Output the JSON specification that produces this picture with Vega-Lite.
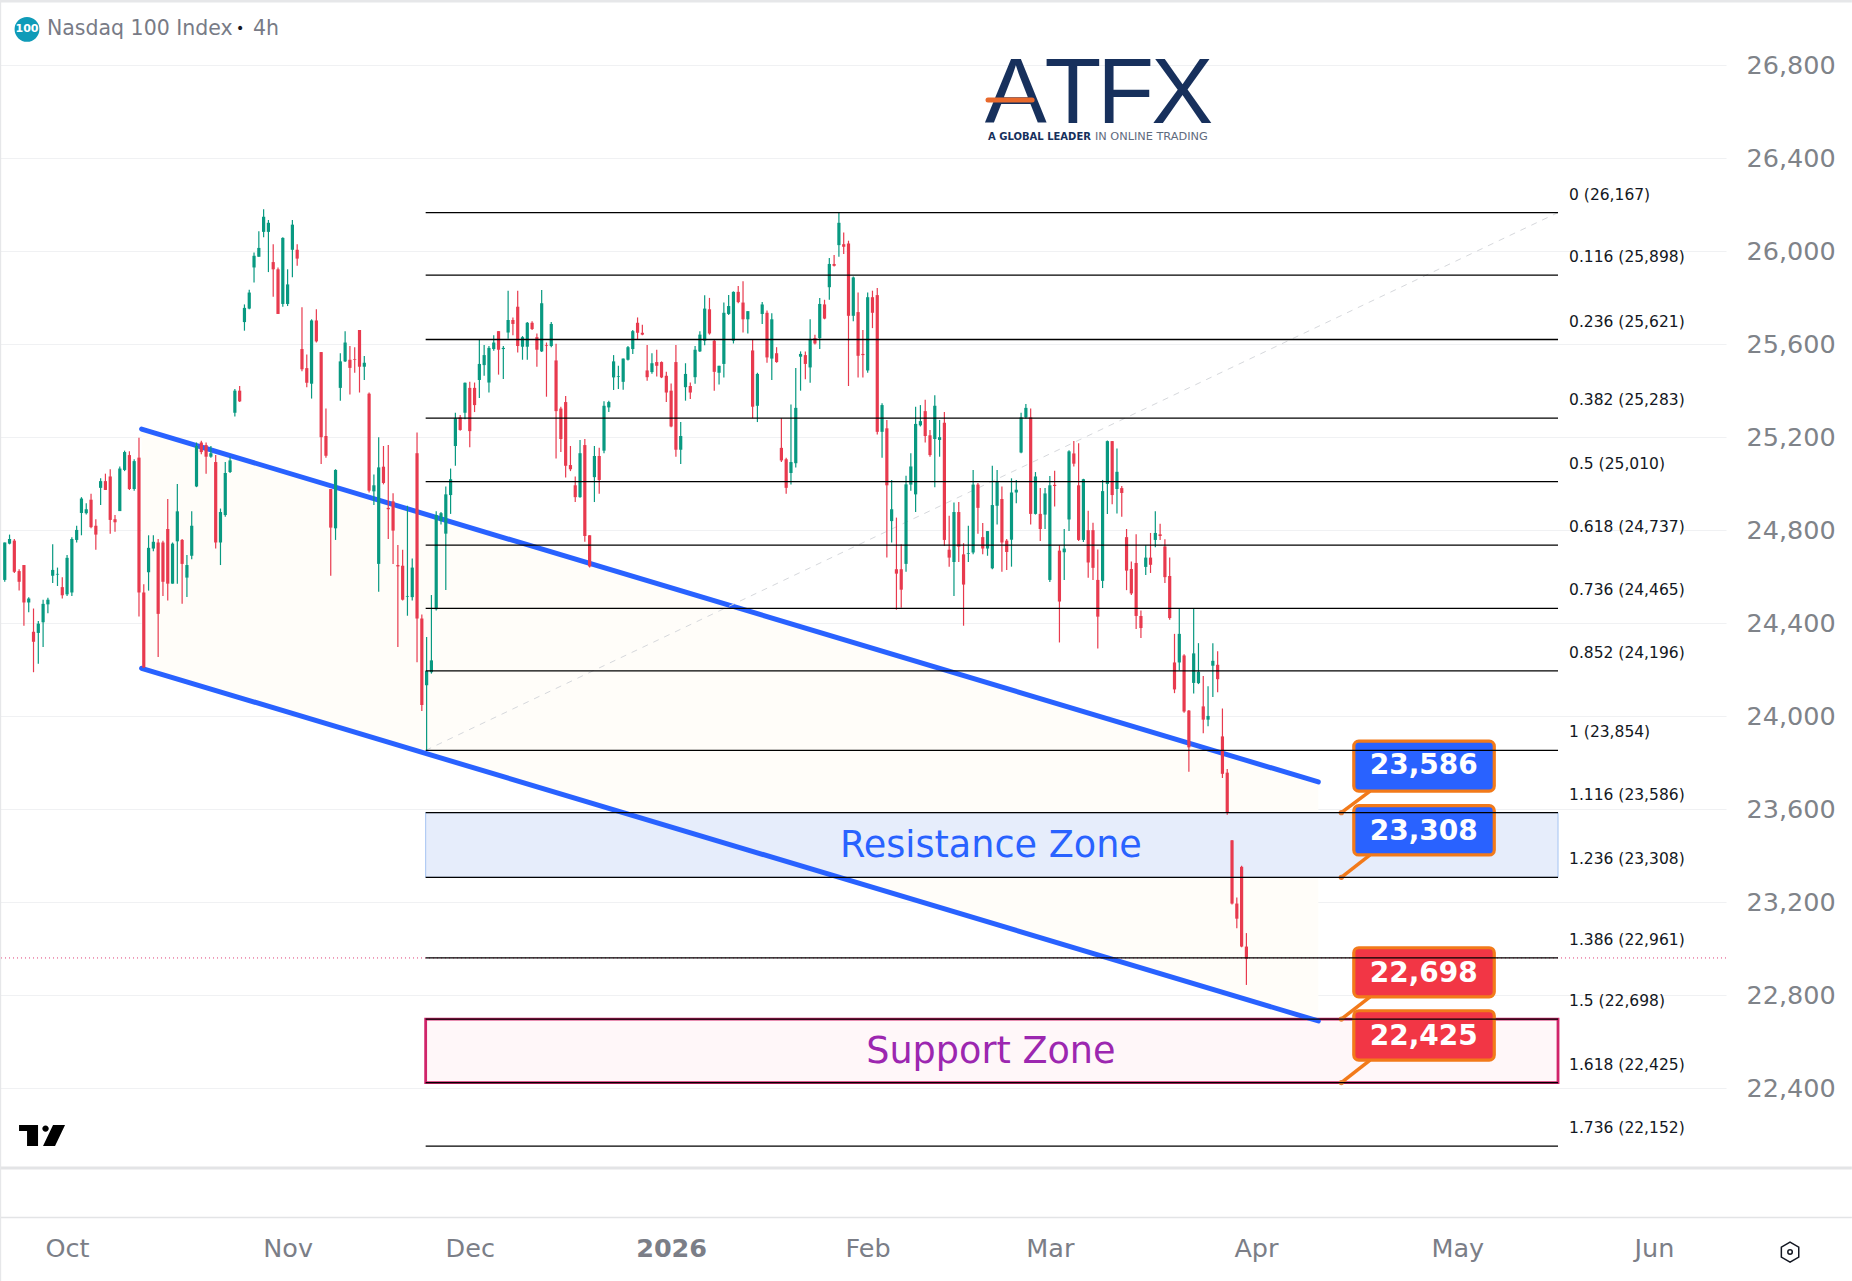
{"$schema":"https://vega.github.io/schema/vega-lite/v6.json","width":1726,"height":1281,"autosize":"none","padding":{"left":0,"top":0,"right":126,"bottom":0},"background":"#ffffff","config":{"font":"DejaVu Sans","view":{"stroke":null}},
"datasets":{
"candles":[
{"i":1,"o":24587,"h":24748,"l":24579,"c":24748},{"i":2,"o":24743,"h":24782,"l":24740,"c":24763},{"i":3,"o":24756,"h":24763,"l":24617,"c":24622},{"i":4,"o":24625,"h":24633,"l":24541,"c":24579},{"i":5,"o":24651,"h":24651,"l":24390,"c":24490},{"i":6,"o":24490,"h":24513,"l":24448,"c":24507},{"i":7,"o":24364,"h":24464,"l":24190,"c":24321},{"i":8,"o":24359,"h":24410,"l":24226,"c":24399},{"i":9,"o":24405,"h":24502,"l":24299,"c":24484},{"i":10,"o":24482,"h":24510,"l":24444,"c":24502},
{"i":11,"o":24605,"h":24740,"l":24574,"c":24630},{"i":12,"o":24610,"h":24640,"l":24561,"c":24613},{"i":13,"o":24556,"h":24599,"l":24507,"c":24521},{"i":14,"o":24525,"h":24694,"l":24518,"c":24682},{"i":15,"o":24533,"h":24771,"l":24518,"c":24763},{"i":16,"o":24759,"h":24820,"l":24748,"c":24802},{"i":17,"o":24875,"h":24943,"l":24779,"c":24937},{"i":18,"o":24874,"h":24917,"l":24868,"c":24891},{"i":19,"o":24932,"h":24958,"l":24809,"c":24814},{"i":20,"o":24820,"h":24848,"l":24717,"c":24782},
{"i":21,"o":24983,"h":25024,"l":24909,"c":25012},{"i":22,"o":25012,"h":25044,"l":24974,"c":24974},{"i":23,"o":25032,"h":25063,"l":24786,"c":24845},{"i":24,"o":24848,"h":24866,"l":24794,"c":24835},{"i":25,"o":24883,"h":25075,"l":24883,"c":25066},{"i":26,"o":25060,"h":25143,"l":25055,"c":25137},{"i":27,"o":25124,"h":25140,"l":24974,"c":24978},{"i":28,"o":24978,"h":25106,"l":24971,"c":25098},{"i":29,"o":25113,"h":25198,"l":24430,"c":24533},{"i":30,"o":24533,"h":24568,"l":24210,"c":24210},
{"i":31,"o":24620,"h":24779,"l":24541,"c":24725},{"i":32,"o":24722,"h":24779,"l":24710,"c":24751},{"i":33,"o":24748,"h":24763,"l":24256,"c":24441},{"i":34,"o":24748,"h":24756,"l":24518,"c":24579},{"i":35,"o":24806,"h":24935,"l":24498,"c":24571},{"i":36,"o":24571,"h":24748,"l":24571,"c":24743},{"i":37,"o":24753,"h":25000,"l":24571,"c":24882},{"i":38,"o":24759,"h":24763,"l":24484,"c":24656},{"i":39,"o":24597,"h":24694,"l":24514,"c":24651},{"i":40,"o":24691,"h":24882,"l":24676,"c":24820},
{"i":41,"o":24989,"h":25178,"l":24986,"c":25163},{"i":42,"o":25178,"h":25186,"l":25127,"c":25137},{"i":43,"o":25167,"h":25178,"l":25044,"c":25117},{"i":44,"o":25117,"h":25163,"l":25112,"c":25132},{"i":45,"o":25094,"h":25124,"l":24722,"c":24748},{"i":46,"o":24748,"h":24894,"l":24651,"c":24879},{"i":47,"o":24866,"h":25094,"l":24859,"c":25047},{"i":48,"o":25051,"h":25117,"l":25047,"c":25101},{"i":49,"o":25306,"h":25408,"l":25290,"c":25401},{"i":50,"o":25401,"h":25421,"l":25352,"c":25355},
{"i":51,"o":25696,"h":25772,"l":25659,"c":25757},{"i":52,"o":25754,"h":25835,"l":25751,"c":25823},{"i":53,"o":25931,"h":25995,"l":25866,"c":25981},{"i":54,"o":25977,"h":26087,"l":25977,"c":26015},{"i":55,"o":26084,"h":26181,"l":26061,"c":26149},{"i":56,"o":26084,"h":26135,"l":25911,"c":26123},{"i":57,"o":25954,"h":26031,"l":25805,"c":25923},{"i":58,"o":25923,"h":25931,"l":25731,"c":25731},{"i":59,"o":25774,"h":26061,"l":25762,"c":26058},{"i":60,"o":25774,"h":25923,"l":25765,"c":25858},
{"i":61,"o":26007,"h":26135,"l":25889,"c":26115},{"i":62,"o":26007,"h":26031,"l":25938,"c":25969},{"i":63,"o":25580,"h":25760,"l":25485,"c":25493},{"i":64,"o":25498,"h":25557,"l":25416,"c":25435},{"i":65,"o":25431,"h":25708,"l":25367,"c":25703},{"i":66,"o":25703,"h":25751,"l":25608,"c":25613},{"i":67,"o":25567,"h":25567,"l":25086,"c":25201},{"i":68,"o":25206,"h":25324,"l":25112,"c":25121},{"i":69,"o":24978,"h":24978,"l":24605,"c":24812},{"i":70,"o":24809,"h":25063,"l":24759,"c":25060},
{"i":71,"o":25413,"h":25562,"l":25358,"c":25527},{"i":72,"o":25527,"h":25657,"l":25524,"c":25608},{"i":73,"o":25534,"h":25593,"l":25385,"c":25499},{"i":74,"o":25536,"h":25588,"l":25478,"c":25533},{"i":75,"o":25662,"h":25662,"l":25393,"c":25504},{"i":76,"o":25504,"h":25550,"l":25447,"c":25521},{"i":77,"o":25388,"h":25393,"l":24963,"c":24971},{"i":78,"o":24968,"h":25040,"l":24909,"c":24994},{"i":79,"o":24656,"h":25201,"l":24536,"c":25071},{"i":80,"o":25074,"h":25163,"l":24998,"c":25004},
{"i":81,"o":24897,"h":25167,"l":24763,"c":24891},{"i":82,"o":24925,"h":24960,"l":24656,"c":24799},{"i":83,"o":24651,"h":24737,"l":24299,"c":24645},{"i":84,"o":24648,"h":24717,"l":24498,"c":24502},{"i":85,"o":24515,"h":24906,"l":24433,"c":24518},{"i":86,"o":24513,"h":24679,"l":24498,"c":24640},{"i":87,"o":25132,"h":25221,"l":24233,"c":24421},{"i":88,"o":24421,"h":24438,"l":24023,"c":24049},{"i":89,"o":24134,"h":24341,"l":23854,"c":24195},{"i":90,"o":24190,"h":24522,"l":24184,"c":24241},
{"i":91,"o":24461,"h":24882,"l":24456,"c":24866},{"i":92,"o":24840,"h":24879,"l":24825,"c":24874},{"i":93,"o":24786,"h":24989,"l":24544,"c":24955},{"i":94,"o":24952,"h":25066,"l":24871,"c":25020},{"i":95,"o":25163,"h":25306,"l":25078,"c":25282},{"i":96,"o":25286,"h":25296,"l":25229,"c":25232},{"i":97,"o":25306,"h":25436,"l":25278,"c":25435},{"i":98,"o":25413,"h":25439,"l":25158,"c":25227},{"i":99,"o":25413,"h":25436,"l":25309,"c":25339},{"i":100,"o":25447,"h":25623,"l":25370,"c":25516},
{"i":101,"o":25511,"h":25597,"l":25465,"c":25554},{"i":102,"o":25436,"h":25593,"l":25393,"c":25585},{"i":103,"o":25580,"h":25639,"l":25573,"c":25608},{"i":104,"o":25657,"h":25657,"l":25470,"c":25577},{"i":105,"o":25580,"h":25593,"l":25451,"c":25585},{"i":106,"o":25651,"h":25831,"l":25624,"c":25705},{"i":107,"o":25705,"h":25716,"l":25639,"c":25688},{"i":108,"o":25762,"h":25831,"l":25565,"c":25593},{"i":109,"o":25590,"h":25636,"l":25534,"c":25631},{"i":110,"o":25590,"h":25696,"l":25534,"c":25693},
{"i":111,"o":25693,"h":25700,"l":25662,"c":25666},{"i":112,"o":25631,"h":25647,"l":25504,"c":25577},{"i":113,"o":25570,"h":25834,"l":25567,"c":25777},{"i":114,"o":25597,"h":25608,"l":25375,"c":25594},{"i":115,"o":25593,"h":25696,"l":25588,"c":25688},{"i":116,"o":25531,"h":25603,"l":25109,"c":25313},{"i":117,"o":25324,"h":25332,"l":25137,"c":25193},{"i":118,"o":25352,"h":25378,"l":25028,"c":25078},{"i":119,"o":25081,"h":25163,"l":25055,"c":25063},{"i":120,"o":24994,"h":25032,"l":24922,"c":24943},
{"i":121,"o":24943,"h":25189,"l":24940,"c":25132},{"i":122,"o":25167,"h":25193,"l":24751,"c":24776},{"i":123,"o":24779,"h":24779,"l":24640,"c":24645},{"i":124,"o":25029,"h":25163,"l":24922,"c":25120},{"i":125,"o":25120,"h":25155,"l":24958,"c":25017},{"i":126,"o":25143,"h":25355,"l":25132,"c":25336},{"i":127,"o":25329,"h":25358,"l":25309,"c":25352},{"i":128,"o":25458,"h":25554,"l":25404,"c":25527},{"i":129,"o":25461,"h":25508,"l":25408,"c":25464},{"i":130,"o":25439,"h":25539,"l":25405,"c":25539},
{"i":131,"o":25534,"h":25593,"l":25531,"c":25588},{"i":132,"o":25580,"h":25662,"l":25559,"c":25657},{"i":133,"o":25693,"h":25716,"l":25620,"c":25650},{"i":134,"o":25650,"h":25685,"l":25639,"c":25642},{"i":135,"o":25488,"h":25597,"l":25444,"c":25459},{"i":136,"o":25481,"h":25562,"l":25474,"c":25519},{"i":137,"o":25524,"h":25577,"l":25462,"c":25508},{"i":138,"o":25524,"h":25527,"l":25455,"c":25458},{"i":139,"o":25465,"h":25482,"l":25352,"c":25393},{"i":140,"o":25401,"h":25432,"l":25244,"c":25247},
{"i":141,"o":25524,"h":25597,"l":25117,"c":25147},{"i":142,"o":25147,"h":25266,"l":25086,"c":25206},{"i":143,"o":25416,"h":25519,"l":25358,"c":25473},{"i":144,"o":25421,"h":25436,"l":25365,"c":25393},{"i":145,"o":25459,"h":25593,"l":25431,"c":25577},{"i":146,"o":25570,"h":25657,"l":25567,"c":25642},{"i":147,"o":25616,"h":25811,"l":25596,"c":25754},{"i":148,"o":25751,"h":25800,"l":25642,"c":25647},{"i":149,"o":25616,"h":25623,"l":25401,"c":25482},{"i":150,"o":25478,"h":25508,"l":25427,"c":25508},
{"i":151,"o":25516,"h":25780,"l":25458,"c":25736},{"i":152,"o":25731,"h":25812,"l":25726,"c":25765},{"i":153,"o":25616,"h":25828,"l":25604,"c":25826},{"i":154,"o":25826,"h":25851,"l":25777,"c":25782},{"i":155,"o":25780,"h":25872,"l":25651,"c":25708},{"i":156,"o":25708,"h":25743,"l":25647,"c":25743},{"i":157,"o":25574,"h":25620,"l":25282,"c":25332},{"i":158,"o":25336,"h":25478,"l":25266,"c":25473},{"i":159,"o":25731,"h":25782,"l":25688,"c":25772},{"i":160,"o":25736,"h":25746,"l":25521,"c":25544},
{"i":161,"o":25539,"h":25734,"l":25447,"c":25708},{"i":162,"o":25562,"h":25588,"l":25521,"c":25524},{"i":163,"o":25155,"h":25282,"l":25094,"c":25101},{"i":164,"o":25106,"h":25112,"l":24958,"c":24983},{"i":165,"o":25047,"h":25342,"l":24997,"c":25094},{"i":166,"o":25089,"h":25498,"l":25071,"c":25327},{"i":167,"o":25547,"h":25570,"l":25401,"c":25559},{"i":168,"o":25554,"h":25570,"l":25450,"c":25516},{"i":169,"o":25501,"h":25708,"l":25435,"c":25620},{"i":170,"o":25627,"h":25642,"l":25600,"c":25604},
{"i":171,"o":25627,"h":25800,"l":25580,"c":25774},{"i":172,"o":25772,"h":25792,"l":25708,"c":25711},{"i":173,"o":25846,"h":25972,"l":25792,"c":25946},{"i":174,"o":25946,"h":25984,"l":25935,"c":25938},{"i":175,"o":26027,"h":26166,"l":25977,"c":26123},{"i":176,"o":26031,"h":26081,"l":25989,"c":26020},{"i":177,"o":26034,"h":26046,"l":25421,"c":25723},{"i":178,"o":25723,"h":25892,"l":25700,"c":25888},{"i":179,"o":25739,"h":25823,"l":25458,"c":25551},{"i":180,"o":25559,"h":25662,"l":25458,"c":25554},
{"i":181,"o":25488,"h":25823,"l":25478,"c":25803},{"i":182,"o":25803,"h":25831,"l":25670,"c":25736},{"i":183,"o":25812,"h":25843,"l":25212,"c":25224},{"i":184,"o":25224,"h":25347,"l":25112,"c":25339},{"i":185,"o":25239,"h":25275,"l":24683,"c":24994},{"i":186,"o":24840,"h":25017,"l":24748,"c":24891},{"i":187,"o":24633,"h":24855,"l":24459,"c":24614},{"i":188,"o":24633,"h":24740,"l":24467,"c":24545},{"i":189,"o":24656,"h":25035,"l":24622,"c":24998},{"i":190,"o":24997,"h":25132,"l":24971,"c":25075},
{"i":191,"o":24955,"h":25332,"l":24879,"c":25258},{"i":192,"o":25252,"h":25339,"l":25247,"c":25270},{"i":193,"o":25313,"h":25362,"l":25178,"c":25206},{"i":194,"o":25209,"h":25232,"l":25117,"c":25124},{"i":195,"o":25193,"h":25381,"l":24986,"c":25336},{"i":196,"o":25189,"h":25275,"l":25117,"c":25201},{"i":197,"o":25263,"h":25309,"l":24733,"c":24759},{"i":198,"o":24717,"h":24863,"l":24644,"c":24683},{"i":199,"o":24664,"h":24920,"l":24518,"c":24879},{"i":200,"o":24879,"h":24922,"l":24664,"c":24730},
{"i":201,"o":24697,"h":24745,"l":24390,"c":24567},{"i":202,"o":24699,"h":24820,"l":24664,"c":24702},{"i":203,"o":24705,"h":25060,"l":24697,"c":24997},{"i":204,"o":24997,"h":25004,"l":24786,"c":24897},{"i":205,"o":24771,"h":24832,"l":24697,"c":24722},{"i":206,"o":24722,"h":24797,"l":24691,"c":24797},{"i":207,"o":24637,"h":25078,"l":24633,"c":24909},{"i":208,"o":24906,"h":25060,"l":24825,"c":25012},{"i":209,"o":24935,"h":24989,"l":24622,"c":24748},{"i":210,"o":24756,"h":24763,"l":24630,"c":24707},
{"i":211,"o":24760,"h":25024,"l":24644,"c":24963},{"i":212,"o":24963,"h":25017,"l":24917,"c":24975},{"i":213,"o":25135,"h":25306,"l":25132,"c":25286},{"i":214,"o":25286,"h":25344,"l":25281,"c":25327},{"i":215,"o":25286,"h":25324,"l":24825,"c":24871},{"i":216,"o":24871,"h":25051,"l":24868,"c":25032},{"i":217,"o":24871,"h":24982,"l":24754,"c":24806},{"i":218,"o":24868,"h":24982,"l":24806,"c":24959},{"i":219,"o":24587,"h":25034,"l":24578,"c":24994},{"i":220,"o":24996,"h":25057,"l":24903,"c":24991},
{"i":221,"o":24713,"h":24736,"l":24318,"c":24494},{"i":222,"o":24706,"h":24806,"l":24587,"c":24722},{"i":223,"o":24847,"h":25145,"l":24797,"c":25140},{"i":224,"o":25131,"h":25184,"l":25075,"c":25087},{"i":225,"o":24994,"h":25175,"l":24754,"c":24759},{"i":226,"o":24759,"h":25022,"l":24750,"c":25020},{"i":227,"o":24801,"h":24885,"l":24596,"c":24662},{"i":228,"o":24801,"h":24833,"l":24587,"c":24639},{"i":229,"o":24587,"h":24718,"l":24292,"c":24429},{"i":230,"o":24583,"h":25017,"l":24552,"c":24969},
{"i":231,"o":25000,"h":25187,"l":24871,"c":25184},{"i":232,"o":25184,"h":25184,"l":24912,"c":24952},{"i":233,"o":24978,"h":25152,"l":24873,"c":25052},{"i":234,"o":24982,"h":24991,"l":24859,"c":24961},{"i":235,"o":24771,"h":24806,"l":24543,"c":24627},{"i":236,"o":24634,"h":24666,"l":24522,"c":24529},{"i":237,"o":24660,"h":24783,"l":24376,"c":24432},{"i":238,"o":24432,"h":24455,"l":24337,"c":24380},{"i":239,"o":24643,"h":24736,"l":24608,"c":24683},{"i":240,"o":24683,"h":24789,"l":24617,"c":24652},
{"i":241,"o":24759,"h":24882,"l":24727,"c":24789},{"i":242,"o":24783,"h":24829,"l":24759,"c":24776},{"i":243,"o":24731,"h":24762,"l":24574,"c":24599},{"i":244,"o":24604,"h":24683,"l":24416,"c":24423},{"i":245,"o":24232,"h":24355,"l":24100,"c":24116},{"i":246,"o":24232,"h":24464,"l":24197,"c":24355},{"i":247,"o":24262,"h":24267,"l":24016,"c":24021},{"i":248,"o":24025,"h":24028,"l":23762,"c":23867},{"i":249,"o":24144,"h":24464,"l":24099,"c":24271},{"i":250,"o":24143,"h":24315,"l":24139,"c":24192},
{"i":251,"o":24043,"h":24174,"l":23928,"c":23986},{"i":252,"o":23986,"h":24130,"l":23958,"c":24002},{"i":253,"o":24218,"h":24315,"l":24083,"c":24239},{"i":254,"o":24222,"h":24280,"l":24104,"c":24160},{"i":255,"o":23914,"h":24034,"l":23735,"c":23753},{"i":256,"o":23758,"h":23774,"l":23577,"c":23586},{"i":257,"o":23467,"h":23468,"l":23191,"c":23195},{"i":258,"o":23195,"h":23221,"l":23089,"c":23130},{"i":259,"o":23353,"h":23358,"l":23007,"c":23010},{"i":260,"o":23010,"h":23068,"l":22845,"c":22957}
],
"fib":[{"price":26167,"label":"0 (26,167)"},{"price":25898,"label":"0.116 (25,898)"},{"price":25621,"label":"0.236 (25,621)"},{"price":25283,"label":"0.382 (25,283)"},{"price":25010,"label":"0.5 (25,010)"},{"price":24737,"label":"0.618 (24,737)"},{"price":24465,"label":"0.736 (24,465)"},{"price":24196,"label":"0.852 (24,196)"},{"price":23854,"label":"1 (23,854)"},{"price":23586,"label":"1.116 (23,586)"},{"price":23308,"label":"1.236 (23,308)"},{"price":22961,"label":"1.386 (22,961)"},{"price":22698,"label":"1.5 (22,698)"},{"price":22425,"label":"1.618 (22,425)"},{"price":22152,"label":"1.736 (22,152)"}],
"channel":[{"bar":29.55,"upper":25236,"lower":24207},{"bar":275,"upper":23718,"lower":22690}],
"zones":[{"name":"Resistance Zone","top":23586,"bottom":23308,"mid":23442},{"name":"Support Zone","top":22698,"bottom":22425,"mid":22556}],
"bubbles":[{"label":"23,586","kind":"blue","level":23586,"top":23894,"bottom":23679,"text":23786},{"label":"23,308","kind":"blue","level":23308,"top":23616,"bottom":23404,"text":23501},{"label":"22,698","kind":"red","level":22698,"top":23005,"bottom":22794,"text":22892},{"label":"22,425","kind":"red","level":22425,"top":22734,"bottom":22522,"text":22620}],
"logo":[{"bar":211.9,"price":26552,"label":"A"},{"bar":223.8,"price":26552,"label":"T"},{"bar":234.8,"price":26552,"label":"F"},{"bar":246.6,"price":26552,"label":"X"}],
"tagA":[{"bar":206.1,"price":26492,"label":"A GLOBAL LEADER"}],
"tagB":[{"bar":228.4,"price":26492,"label":"IN ONLINE TRADING"}],
"legend":[{"bar":9.8,"price":26955,"label":"Nasdaq 100 Index"},{"bar":52.8,"price":26955,"label":"4h"}]
},
"layer":[
{"data":{"name":"channel"},"mark":{"type":"area","color":"#fffdf9"},"encoding":{"x":{"field":"bar","type":"quantitative","scale":{"domain":[0.01,360.04],"nice":false,"zero":false,"padding":0},"axis":{"orient":"bottom","offset":-63,"title":null,"grid":false,"domain":false,"ticks":false,"labelPadding":30,"labelBaseline":"middle","labelFontSize":25.5,"labelColor":"#7b7e87","labelOverlap":false,"labelBound":false,"labelFlush":false,"values":[14,60,98,140,181,219,262,304,345],"labelExpr":"datum.value==14?'Oct':datum.value==60?'Nov':datum.value==98?'Dec':datum.value==140?'2026':datum.value==181?'Feb':datum.value==219?'Mar':datum.value==262?'Apr':datum.value==304?'May':'Jun'","labelFontWeight":{"condition":{"test":"datum.value==140","value":"bold"},"value":"normal"}}},"y":{"field":"upper","type":"quantitative","scale":{"domain":[21571.6,27081.3],"nice":false,"zero":false},"axis":{"orient":"right","title":null,"grid":true,"gridColor":"#f0f1f3","gridWidth":1.2,"domain":false,"ticks":false,"labelPadding":20,"labelFontSize":25.5,"labelColor":"#7f8389","labelOverlap":false,"labelBound":false,"labelExpr":"format(datum.value,',')","values":[22400,22800,23200,23600,24000,24400,24800,25200,25600,26000,26400,26800]}},"y2":{"field":"lower"}}},
{"data":{"name":"zones"},"transform":[{"filter":"datum.name=='Resistance Zone'"}],"mark":{"type":"rect","fill":"#e6edfb","stroke":"#a5c4f2","strokeWidth":1},"encoding":{"x":{"datum":88.8,"type":"quantitative"},"x2":{"datum":325},"y":{"field":"top","type":"quantitative"},"y2":{"field":"bottom"}}},
{"data":{"name":"zones"},"transform":[{"filter":"datum.name=='Support Zone'"}],"mark":{"type":"rect","fill":"#fff7f9","stroke":"#d0246a","strokeWidth":2.8},"encoding":{"x":{"datum":88.8,"type":"quantitative"},"x2":{"datum":325},"y":{"field":"top","type":"quantitative"},"y2":{"field":"bottom"}}},
{"data":{"name":"channel"},"mark":{"type":"line","color":"#2962ff","strokeWidth":5,"strokeCap":"round"},"encoding":{"x":{"field":"bar","type":"quantitative"},"y":{"field":"upper","type":"quantitative"}}},
{"data":{"name":"channel"},"mark":{"type":"line","color":"#2962ff","strokeWidth":5,"strokeCap":"round"},"encoding":{"x":{"field":"bar","type":"quantitative"},"y":{"field":"lower","type":"quantitative"}}},
{"data":{"values":[{"bar":88.8,"price":23854},{"bar":325,"price":26167}]},"mark":{"type":"line","color":"#d6d8dc","strokeWidth":1,"strokeDash":[6,6]},"encoding":{"x":{"field":"bar","type":"quantitative"},"y":{"field":"price","type":"quantitative"}}},
{"data":{"name":"candles"},"mark":{"type":"rule","strokeWidth":1.2},"encoding":{"x":{"field":"i","type":"quantitative"},"y":{"field":"h","type":"quantitative"},"y2":{"field":"l"},"color":{"condition":{"test":"datum.c>=datum.o","value":"#089981"},"value":"#e83a4e"}}},
{"data":{"name":"candles"},"mark":{"type":"bar","size":3.2},"encoding":{"x":{"field":"i","type":"quantitative"},"y":{"field":"o","type":"quantitative"},"y2":{"field":"c"},"color":{"condition":{"test":"datum.c>=datum.o","value":"#089981"},"value":"#e83a4e"}}},
{"data":{"values":[{"price":22961}]},"mark":{"type":"rule","color":"#e0407a","strokeWidth":1,"strokeDash":[1,3]},"encoding":{"y":{"field":"price","type":"quantitative"}}},
{"data":{"name":"bubbles"},"mark":{"type":"rule","strokeWidth":3.5,"color":"#f27a1a"},"encoding":{"x":{"datum":279.8,"type":"quantitative"},"x2":{"datum":285.8},"y":{"field":"level","type":"quantitative"},"y2":{"field":"bottom"}}},
{"data":{"name":"bubbles"},"mark":{"type":"point","filled":true,"size":28,"color":"#e8813a","opacity":1},"encoding":{"x":{"datum":279.8,"type":"quantitative"},"y":{"field":"level","type":"quantitative"}}},
{"data":{"name":"bubbles"},"mark":{"type":"rect","cornerRadius":5,"stroke":"#f27a1a","strokeWidth":3.2},"encoding":{"x":{"datum":282.4,"type":"quantitative"},"x2":{"datum":311.7},"y":{"field":"top","type":"quantitative"},"y2":{"field":"bottom"},"fill":{"field":"kind","type":"nominal","legend":null,"scale":{"domain":["blue","red"],"range":["#2962ff","#f23645"]}}}},
{"data":{"name":"fib"},"mark":{"type":"rule","color":"#000000","strokeWidth":1.3},"encoding":{"x":{"datum":88.8,"type":"quantitative"},"x2":{"datum":325},"y":{"field":"price","type":"quantitative"}}},
{"data":{"name":"fib"},"mark":{"type":"text","align":"left","baseline":"middle","dy":-18,"fontSize":15.5,"color":"#131722"},"encoding":{"x":{"datum":327.3,"type":"quantitative"},"y":{"field":"price","type":"quantitative"},"text":{"field":"label"}}},
{"data":{"name":"bubbles"},"mark":{"type":"text","align":"center","baseline":"middle","fontSize":28,"fontWeight":"bold","color":"#ffffff"},"encoding":{"x":{"datum":297,"type":"quantitative"},"y":{"field":"text","type":"quantitative"},"text":{"field":"label"}}},
{"data":{"name":"zones"},"transform":[{"filter":"datum.name=='Resistance Zone'"}],"mark":{"type":"text","align":"center","baseline":"middle","fontSize":36.6,"color":"#2962ff"},"encoding":{"x":{"datum":206.7,"type":"quantitative"},"y":{"field":"mid","type":"quantitative"},"text":{"field":"name"}}},
{"data":{"name":"zones"},"transform":[{"filter":"datum.name=='Support Zone'"}],"mark":{"type":"text","align":"center","baseline":"middle","fontSize":36.6,"color":"#9c27b0"},"encoding":{"x":{"datum":206.7,"type":"quantitative"},"y":{"field":"mid","type":"quantitative"},"text":{"field":"name"}}},
{"data":{"name":"logo"},"mark":{"type":"text","align":"center","baseline":"alphabetic","font":"Liberation Sans","fontSize":93,"color":"#17305c"},"encoding":{"x":{"field":"bar","type":"quantitative"},"y":{"field":"price","type":"quantitative"},"text":{"field":"label"}}},
{"data":{"values":[{"bar":206.1,"bar2":215.3,"price":26651}]},"mark":{"type":"rule","color":"#e8692c","strokeWidth":5,"strokeCap":"round"},"encoding":{"x":{"field":"bar","type":"quantitative"},"x2":{"field":"bar2"},"y":{"field":"price","type":"quantitative"}}},
{"data":{"name":"tagA"},"mark":{"type":"text","align":"left","baseline":"middle","fontSize":10,"fontWeight":"bold","color":"#17305c"},"encoding":{"x":{"field":"bar","type":"quantitative"},"y":{"field":"price","type":"quantitative"},"text":{"field":"label"}}},
{"data":{"name":"tagB"},"mark":{"type":"text","align":"left","baseline":"middle","fontSize":11.3,"color":"#5f6b7e"},"encoding":{"x":{"field":"bar","type":"quantitative"},"y":{"field":"price","type":"quantitative"},"text":{"field":"label"}}},
{"data":{"values":[{"bar":5.64,"price":26955}]},"mark":{"type":"point","filled":true,"size":616,"color":"#0f9bb8","opacity":1},"encoding":{"x":{"field":"bar","type":"quantitative"},"y":{"field":"price","type":"quantitative"}}},
{"data":{"values":[{"bar":5.64,"price":26955,"label":"100"}]},"mark":{"type":"text","align":"center","baseline":"middle","fontSize":11,"fontWeight":"bold","color":"#ffffff"},"encoding":{"x":{"field":"bar","type":"quantitative"},"y":{"field":"price","type":"quantitative"},"text":{"field":"label"}}},
{"data":{"name":"legend"},"mark":{"type":"text","align":"left","baseline":"middle","fontSize":20.5,"color":"#787b86"},"encoding":{"x":{"field":"bar","type":"quantitative"},"y":{"field":"price","type":"quantitative"},"text":{"field":"label"}}},
{"data":{"values":[{"bar":50.1,"price":26955,"label":"•"}]},"mark":{"type":"text","align":"center","baseline":"middle","fontSize":14,"color":"#131722"},"encoding":{"x":{"field":"bar","type":"quantitative"},"y":{"field":"price","type":"quantitative"},"text":{"field":"label"}}},
{"data":{"values":[{"bar":8.78,"price":22197}]},"mark":{"type":"point","filled":true,"opacity":1,"color":"#000000","size":2116,"shape":"M-1,-.457 L-.174,-.457 L-.174,.457 L-.652,.457 L-.652,-.196 L-1,-.196 Z M.012,-.304 A.14,.14 0 1 1 .292,-.304 A.14,.14 0 1 1 .012,-.304 Z M.478,-.457 L1,-.457 L.565,.457 L.043,.457 Z"},"encoding":{"x":{"field":"bar","type":"quantitative"},"y":{"field":"price","type":"quantitative"}}},
{"data":{"values":[{"bar":373.4,"price":21696}]},"mark":{"type":"point","filled":false,"opacity":1,"stroke":"#131722","strokeWidth":1.5,"size":400,"shape":"M0,-1 L.87,-.5 L.87,.5 L0,1 L-.87,.5 L-.87,-.5 Z"},"encoding":{"x":{"field":"bar","type":"quantitative"},"y":{"field":"price","type":"quantitative"}}},
{"data":{"values":[{"bar":373.4,"price":21696}]},"mark":{"type":"point","filled":false,"opacity":1,"stroke":"#131722","strokeWidth":1.5,"size":20},"encoding":{"x":{"field":"bar","type":"quantitative"},"y":{"field":"price","type":"quantitative"}}},
{"data":{"values":[{"price":22058}]},"mark":{"type":"rule","color":"#e3e4e6","strokeWidth":3},"encoding":{"x":{"datum":0.01,"type":"quantitative"},"x2":{"datum":386.3},"y":{"field":"price","type":"quantitative"}}},
{"data":{"values":[{"price":21845}]},"mark":{"type":"rule","color":"#e3e4e6","strokeWidth":1.5},"encoding":{"x":{"datum":0.01,"type":"quantitative"},"x2":{"datum":386.3},"y":{"field":"price","type":"quantitative"}}},
{"data":{"values":[{"price":27077}]},"mark":{"type":"rule","color":"#e6e7e9","strokeWidth":3},"encoding":{"x":{"datum":0.01,"type":"quantitative"},"x2":{"datum":386.3},"y":{"field":"price","type":"quantitative"}}},
{"data":{"values":[{"bar":0.1}]},"mark":{"type":"rule","color":"#e6e7e9","strokeWidth":1.5},"encoding":{"x":{"field":"bar","type":"quantitative"}}}
]}
